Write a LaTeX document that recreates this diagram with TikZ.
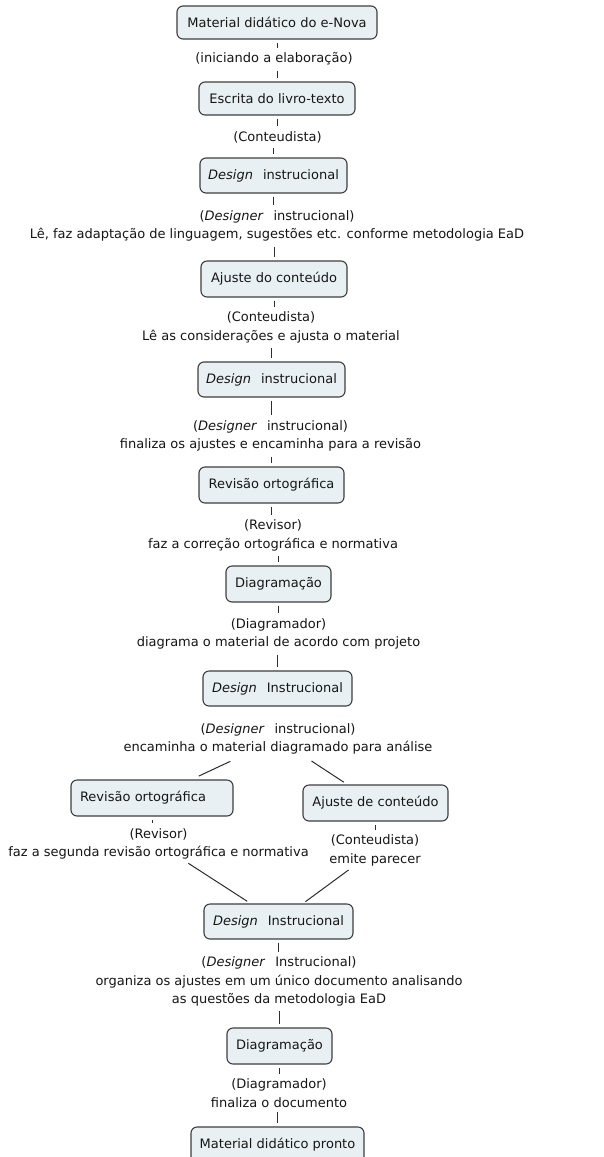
\documentclass[tikz,border=0pt]{standalone}
\usepackage{fontspec}
\setmainfont{DejaVu Sans}
\definecolor{boxfill}{RGB}{232,240,243}
\definecolor{boxline}{RGB}{62,62,62}
\definecolor{txt}{RGB}{22,22,22}
\definecolor{lncol}{RGB}{45,45,45}
\newcommand{\dsg}{\textit{Design}\hspace{0.45em} }
\newcommand{\dsr}{\textit{Designer}\hspace{0.45em} }
\begin{document}
\begin{tikzpicture}[x=1pt,y=-1pt,
  box/.style={draw=boxline, fill=boxfill, rounded corners=6pt, line width=1.1pt,
    minimum height=35pt, inner xsep=0pt, inner ysep=0pt, text=txt,
    font=\fontsize{13}{18}\selectfont},
  lbl/.style={align=center, inner xsep=2pt, inner ysep=2pt, text=txt,
    font=\fontsize{13}{18.3}\selectfont},
  conn/.style={draw=lncol, line width=1pt, shorten <=3pt, shorten >=3pt}]
\useasboundingbox (0,0) rectangle (603,1157);
\clip (0,0) rectangle (603,1157);
\fill[white] (0,0) rectangle (603,1157);

% boxes
\node[box, minimum width=200pt, minimum height=33pt] (B1) at (277,22.5) {Material didático do e-Nova};
\node[box, minimum width=156pt, minimum height=33pt] (B2) at (277,98.5) {Escrita do livro-texto};
\node[box, minimum width=147pt] (B3) at (273.5,175.5) {\dsg instrucional};
\node[box, minimum width=146pt, minimum height=36pt] (B4) at (274,279) {Ajuste do conteúdo};
\node[box, minimum width=147pt] (B5) at (271.5,379.5) {\dsg instrucional};
\node[box, minimum width=145pt, minimum height=36pt] (B6) at (271.5,485) {Revisão ortográfica};
\node[box, minimum width=105pt, minimum height=36pt] (B7) at (278.5,584) {Diagramação};
\node[box, minimum width=149pt] (B8) at (277.5,688.5) {\dsg Instrucional};
\node[box, minimum height=36pt, inner xsep=9pt, text width=144pt, align=left] (B9) at (152,798) {Revisão ortográfica};
\node[box, minimum width=145pt, minimum height=36pt] (B10) at (375.5,803) {Ajuste de conteúdo};
\node[box, minimum width=149pt] (B11) at (278.5,921.5) {\dsg Instrucional};
\node[box, minimum width=105pt, minimum height=36pt] (B12) at (279.5,1046) {Diagramação};
\node[box, minimum width=173pt, minimum height=36pt] (B13) at (277.5,1145) {Material didático pronto};

% labels
\node[lbl] (L1) at (274,59) {(iniciando a elaboração)};
\node[lbl] (L2) at (277.5,137) {(Conteudista)};
\node[lbl] (L3) at (277,226) {(\dsr instrucional)\\Lê, faz adaptação de linguagem, sugestões etc. conforme metodologia EaD};
\node[lbl] (L4) at (271,327.5) {(Conteudista)\\Lê as considerações e ajusta o material};
\node[lbl] (L5) at (270.5,436) {(\dsr instrucional)\\finaliza os ajustes e encaminha para a revisão};
\node[lbl] (L6) at (273,535.5) {(Revisor)\\faz a correção ortográfica e normativa};
\node[lbl] (L7) at (278.5,634) {(Diagramador)\\diagrama o material de acordo com projeto};
\node[lbl] (L8) at (278,739) {(\dsr instrucional)\\encaminha o material diagramado para análise};
\node[lbl] (L9) at (158.5,844) {(Revisor)\\faz a segunda revisão ortográfica e normativa};
\node[lbl] (L10) at (375,850.5) {(Conteudista)\\emite parecer};
\node[lbl] (L11) at (279,981.5) {(\dsr Instrucional)\\organiza os ajustes em um único documento analisando\\as questões da metodologia EaD};
\node[lbl] (L12) at (279,1093) {(Diagramador)\\finaliza o documento};

% vertical connectors
\foreach \b/\l/\n in {B1/L1/B2, B2/L2/B3, B3/L3/B4, B4/L4/B5, B5/L5/B6, B6/L6/B7, B7/L7/B8, B11/L11/B12, B12/L12/B13}{
  \draw[conn] (\b.south) -- (\b.south |- \l.north);
  \draw[conn] (\l.south -| \n.north) -- (\n.north);
}
\draw[conn] (B9.south) -- (B9.south |- L9.north);
\draw[conn] (B10.south) -- (B10.south |- L10.north);

% diagonal connectors
\draw[conn, shorten <=11pt, shorten >=8pt] (L8) -- (B9);
\draw[conn, shorten <=8pt, shorten >=4pt] (L8) -- (B10);
\draw[conn, shorten <=3pt, shorten >=4pt] (L9) -- (B11);
\draw[conn, shorten <=3pt, shorten >=3pt] (L10) -- (B11);
\end{tikzpicture}
\end{document}
